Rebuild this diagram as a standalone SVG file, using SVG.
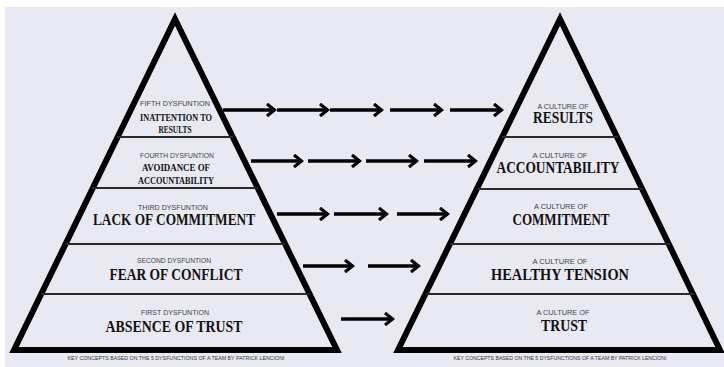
<svg xmlns="http://www.w3.org/2000/svg" width="724" height="367" viewBox="0 0 724 367">
<style>
.tri{fill:none;stroke:#000;stroke-width:6;stroke-linejoin:miter;stroke-miterlimit:4}
.div{stroke:#2a2a2a;stroke-width:2}
.big{font-family:"Liberation Serif",serif;font-weight:bold;fill:#111;text-anchor:middle}
.sm{font-family:"Liberation Sans",sans-serif;fill:#444;text-anchor:middle;font-size:6.5px}
.ft{font-family:"Liberation Sans",sans-serif;fill:#333;text-anchor:middle;font-size:4.5px}
.arr{stroke:#000;stroke-width:3.5;fill:none}
</style>
<defs>
<marker id="ah" markerUnits="userSpaceOnUse" viewBox="0 0 12 14" refX="10" refY="7" markerWidth="12" markerHeight="14" orient="auto">
<path d="M2,1 L9.5,7 L2,13" fill="none" stroke="#000" stroke-width="3.2"/>
</marker>
</defs>
<rect x="0" y="0" width="724" height="367" fill="#fff"/>
<rect x="5" y="7" width="719" height="360" fill="#E9E9F3"/>

<g id="left-pyramid">
<polygon class="tri" points="175,19 14,350 337,350"/>
<line class="div" x1="117" y1="137" x2="233" y2="137"/>
<line class="div" x1="92" y1="188" x2="258" y2="188"/>
<line class="div" x1="65" y1="244" x2="285" y2="244"/>
<line class="div" x1="41" y1="294" x2="310" y2="294"/>
</g>

<g id="node-fifth">
<text class="sm" x="175" y="106" textLength="70" lengthAdjust="spacingAndGlyphs">FIFTH DYSFUNTION</text>
<text class="big" x="176" y="121" font-size="10" textLength="72" lengthAdjust="spacingAndGlyphs">INATTENTION TO</text>
<text class="big" x="175" y="133" font-size="10" textLength="33" lengthAdjust="spacingAndGlyphs">RESULTS</text>
</g>
<g id="node-fourth">
<text class="sm" x="177" y="158" textLength="74" lengthAdjust="spacingAndGlyphs">FOURTH DYSFUNTION</text>
<text class="big" x="176" y="171" font-size="10" textLength="68" lengthAdjust="spacingAndGlyphs">AVOIDANCE OF</text>
<text class="big" x="176" y="184" font-size="10" textLength="76" lengthAdjust="spacingAndGlyphs">ACCOUNTABILITY</text>
</g>
<g id="node-third">
<text class="sm" x="173" y="210" textLength="70" lengthAdjust="spacingAndGlyphs">THIRD DYSFUNTION</text>
<text class="big" x="174" y="225" font-size="16" textLength="162" lengthAdjust="spacingAndGlyphs">LACK OF COMMITMENT</text>
</g>
<g id="node-second">
<text class="sm" x="174" y="263" textLength="74" lengthAdjust="spacingAndGlyphs">SECOND DYSFUNTION</text>
<text class="big" x="176" y="280" font-size="17" textLength="133" lengthAdjust="spacingAndGlyphs">FEAR OF CONFLICT</text>
</g>
<g id="node-first">
<text class="sm" x="175" y="315" textLength="68" lengthAdjust="spacingAndGlyphs">FIRST DYSFUNTION</text>
<text class="big" x="174" y="332" font-size="17" textLength="137" lengthAdjust="spacingAndGlyphs">ABSENCE OF TRUST</text>
</g>
<text class="ft" x="176" y="360" textLength="217" lengthAdjust="spacingAndGlyphs">KEY CONCEPTS BASED ON THE 5 DYSFUNCTIONS OF A TEAM BY PATRICK LENCIONI</text>

<g id="right-pyramid">
<polygon class="tri" points="560,19 398,350 720,350"/>
<line class="div" x1="502" y1="137" x2="618" y2="137"/>
<line class="div" x1="477" y1="189" x2="643" y2="189"/>
<line class="div" x1="450" y1="244" x2="670" y2="244"/>
<line class="div" x1="426" y1="294" x2="694" y2="294"/>
</g>

<g id="node-results">
<text class="sm" x="563" y="109" textLength="51" lengthAdjust="spacingAndGlyphs">A CULTURE OF</text>
<text class="big" x="563" y="123" font-size="16" textLength="60" lengthAdjust="spacingAndGlyphs">RESULTS</text>
</g>
<g id="node-accountability">
<text class="sm" x="560" y="158" textLength="55" lengthAdjust="spacingAndGlyphs">A CULTURE OF</text>
<text class="big" x="558" y="173" font-size="16" textLength="123" lengthAdjust="spacingAndGlyphs">ACCOUNTABILITY</text>
</g>
<g id="node-commitment">
<text class="sm" x="561" y="209" textLength="54" lengthAdjust="spacingAndGlyphs">A CULTURE OF</text>
<text class="big" x="561" y="225" font-size="16" textLength="97" lengthAdjust="spacingAndGlyphs">COMMITMENT</text>
</g>
<g id="node-healthy-tension">
<text class="sm" x="560" y="264" textLength="55" lengthAdjust="spacingAndGlyphs">A CULTURE OF</text>
<text class="big" x="560" y="280" font-size="17" textLength="138" lengthAdjust="spacingAndGlyphs">HEALTHY TENSION</text>
</g>
<g id="node-trust">
<text class="sm" x="563" y="315" textLength="53" lengthAdjust="spacingAndGlyphs">A CULTURE OF</text>
<text class="big" x="564" y="331" font-size="17" textLength="46" lengthAdjust="spacingAndGlyphs">TRUST</text>
</g>
<text class="ft" x="560" y="360" textLength="213" lengthAdjust="spacingAndGlyphs">KEY CONCEPTS BASED ON THE 5 DYSFUNCTIONS OF A TEAM BY PATRICK LENCIONI</text>

<g id="connectors">
<line class="arr" x1="223" y1="110" x2="275" y2="110" marker-end="url(#ah)"/>
<line class="arr" x1="277" y1="110" x2="328" y2="110" marker-end="url(#ah)"/>
<line class="arr" x1="330" y1="110" x2="382" y2="110" marker-end="url(#ah)"/>
<line class="arr" x1="390" y1="110" x2="442" y2="110" marker-end="url(#ah)"/>
<line class="arr" x1="450" y1="110" x2="502" y2="110" marker-end="url(#ah)"/>

<line class="arr" x1="251" y1="161" x2="302" y2="161" marker-end="url(#ah)"/>
<line class="arr" x1="308" y1="161" x2="360" y2="161" marker-end="url(#ah)"/>
<line class="arr" x1="366" y1="161" x2="417" y2="161" marker-end="url(#ah)"/>
<line class="arr" x1="424" y1="161" x2="476" y2="161" marker-end="url(#ah)"/>

<line class="arr" x1="277" y1="214" x2="328" y2="214" marker-end="url(#ah)"/>
<line class="arr" x1="334" y1="214" x2="387" y2="214" marker-end="url(#ah)"/>
<line class="arr" x1="397" y1="214" x2="448" y2="214" marker-end="url(#ah)"/>

<line class="arr" x1="303" y1="266" x2="353" y2="266" marker-end="url(#ah)"/>
<line class="arr" x1="368" y1="266" x2="419" y2="266" marker-end="url(#ah)"/>

<line class="arr" x1="341" y1="319" x2="393" y2="319" marker-end="url(#ah)"/>
</g>
</svg>
